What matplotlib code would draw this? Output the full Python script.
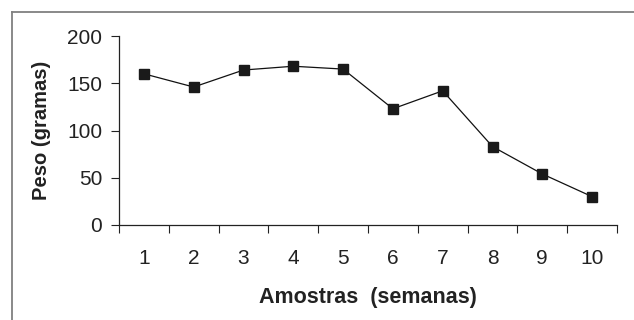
import matplotlib
matplotlib.use("Agg")
import matplotlib.pyplot as plt
from matplotlib.lines import Line2D
from matplotlib.ticker import FixedLocator, NullFormatter

plt.rcParams['font.family'] = ['Liberation Sans', 'DejaVu Sans']

semanas = [1, 2, 3, 4, 5, 6, 7, 8, 9, 10]
peso = [160, 146, 164, 168, 165, 123, 142, 83, 54, 30]
y_ticks = [0, 50, 100, 150, 200]

W, H = 634, 320
fig = plt.figure(figsize=(W / 100, H / 100), dpi=100)
ax = fig.add_axes([119 / W, 1 - 225 / H, (617 - 119) / W, (225 - 36) / H])

ax.plot(semanas, peso, color='#111111', lw=0.9, marker='s', markersize=7,
        markerfacecolor='#1a1a1a', markeredgecolor='#1a1a1a')

ax.set_xlim(0.5, 10.5)
ax.set_ylim(0, 200)
ax.set_yticks(y_ticks)
ax.set_yticklabels([str(v) for v in y_ticks], fontsize=15, color='#222222')

# boundary ticks between categories, labels at centers
ax.xaxis.set_major_locator(FixedLocator([s + 0.5 for s in [0] + semanas]))
ax.xaxis.set_major_formatter(NullFormatter())
ax.xaxis.set_minor_locator(FixedLocator(semanas))
ax.set_xticklabels([str(s) for s in semanas], minor=True, fontsize=15, color='#222222')
ax.tick_params(axis='x', which='major', direction='out', length=6, width=0.8, color='#222222')
ax.tick_params(axis='x', which='minor', length=0, pad=17)
ax.tick_params(axis='y', direction='out', length=6, width=0.8, color='#222222', pad=6)

for s in ['top', 'right']:
    ax.spines[s].set_visible(False)
for s in ['left', 'bottom']:
    ax.spines[s].set_color('#222222')
    ax.spines[s].set_linewidth(0.9)

ax.set_xlabel('Amostras  (semanas)', fontsize=15.5, fontweight='bold', color='#222222', labelpad=14)
ax.set_ylabel('Peso (gramas)', fontsize=14.5, fontweight='bold', color='#222222', labelpad=12)

# outer frame (left and top visible)
bx, by = 11.5 / W, 1 - 11.5 / H
fig.add_artist(Line2D([bx, bx], [0, by], transform=fig.transFigure, color='#808080', lw=1.3))
fig.add_artist(Line2D([bx, 1], [by, by], transform=fig.transFigure, color='#808080', lw=1.3))

fig.savefig('out.png', dpi=100)
